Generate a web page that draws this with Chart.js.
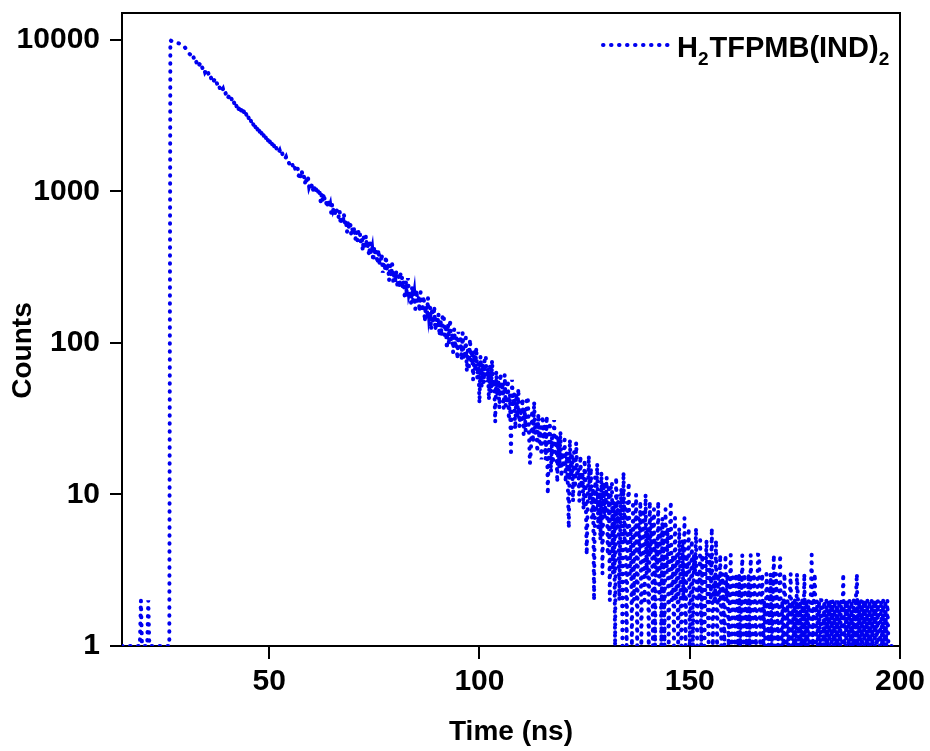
<!DOCTYPE html>
<html><head><meta charset="utf-8">
<script src="https://cdn.jsdelivr.net/npm/chart.js@4/dist/chart.umd.min.js"></script>
<style>html,body{margin:0;padding:0;background:#fff;}#wrap{width:930px;height:751px;}</style>
</head><body><div id="wrap"><canvas id="c" width="930" height="751"></canvas></div>
<script>
// ---- data ----
const seriesLabel = 'H₂TFPMB(IND)₂';
const legendParts = [['H', false], ['2', true], ['TFPMB(IND)', false], ['2', true]];
const channelStart = 15;      // ns, first channel
const channelWidth = 0.25;    // ns per channel
const xTickValues = [50, 100, 150, 200];
const yTickValues = [1, 10, 100, 1000, 10000];
const xTitle = 'Time (ns)';
const yTitle = 'Counts';
const counts = [
  // 15.00 - 26.25 ns (baseline before excitation)
  1,1,1,1,1,1,1,1,1,1,1,1,1,1,1,1,1,1,2,1,1,1,1,1,1,2,
  1,1,1,1,1,1,1,1,1,1,1,1,1,1,1,1,1,1,1,1,
  // 26.50 - 31.25
  9900,9800,9750,9700,9650,9600,9560,9500,9450,9400,9350,9280,9200,9050,8870,8700,8500,8300,8100,7960,
  // 31.50 - 36.25
  7950,7510,7680,7260,7420,7010,7170,6770,6930,6540,6690,6320,6460,6100,6250,5900,6030,5700,5830,5500,
  // 36.50 - 41.25
  5630,5320,5440,5130,5250,4960,5080,4790,4900,4630,4740,4470,4570,4320,4420,4170,4270,4030,4120,3890,
  // 41.50 - 46.25
  4000,3740,3870,3620,3740,3490,3610,3370,3490,3260,3370,3150,3250,3040,3140,2940,3040,2840,2930,2740,
  // 46.50 - 51.25
  2850,2640,2750,2550,2660,2460,2570,2380,2480,2300,2400,2220,2310,2140,2240,2070,2160,2000,2090,1930,
  // 51.50 - 56.25
  2009,1905,1913,1801,1858,1762,1816,1723,1713,1634,1681,1598,1604,1521,1573,1505,1506,1427,1476,1388,
  // 56.50 - 61.25
  1365,1438,1257,1342,1248,1360,1239,1269,1124,1235,1133,1217,1072,1121,1064,1121,993,1061,972,1061,
  // 61.50 - 66.25
  1064,937,983,848,967,850,969,852,869,779,880,781,819,720,827,749,778,686,787,674,
  // 66.50 - 71.25
  677,746,603,681,611,714,618,650,538,636,557,635,520,567,526,580,480,541,474,553,
  // 71.50 - 76.25
  556,463,501,406,497,414,509,423,440,376,455,384,416,346,431,374,399,332,413,330,
  // 76.50 - 81.25
  336,388,290,345,299,374,308,333,257,327,274,332,252,286,259,300,231,276,231,289,
  // 81.50 - 86.25
  290,229,256,195,257,202,267,210,222,182,236,189,211,167,224,187,205,161,216,161,
  // 86.50 - 91.25
  167,204,138,176,145,199,154,172,122,170,134,175,121,145,128,156,111,142,111,152,
  // 91.50 - 96.25
  154,112,132,91,134,97,143,104,113,86,124,92,108,78,118,93,106,77,116,78,
  // 96.50 - 101.25
  82,108,65,90,70,106,76,89,57,89,65,93,58,74,40,82,52,73,54,81,
  // 101.50 - 106.25
  82,55,68,42,70,47,77,51,57,30,65,45,55,37,63,46,55,37,62,38,
  // 106.50 - 111.25
  41,57,31,46,18,57,38,46,27,46,32,50,28,37,31,43,25,37,26,43,
  // 111.50 - 116.25
  44,27,16,20,36,22,41,25,29,19,34,22,28,17,33,23,28,17,33,10,
  // 116.50 - 121.25
  20,30,14,24,16,31,19,24,12,24,15,26,13,19,15,23,12,19,12,6,
  // 121.50 - 126.25
  23,13,18,9,19,11,22,13,15,9,18,11,14,8,17,11,4,9,18,9,
  // 126.50 - 131.25
  15,7,11,2,13,8,16,6,10,5,14,3,12,7,9,13,4,11,2,12,
  // 131.50 - 136.25
  12,3,9,1,13,6,10,2,7,11,1,14,5,9,1,8,12,3,6,1,
  // 136.50 - 141.25
  9,2,6,10,1,7,4,9,1,5,8,2,10,3,6,1,9,4,7,1,
  // 141.50 - 146.25
  8,1,5,3,9,2,6,1,7,4,1,8,3,6,1,5,9,2,4,1,
  // 146.50 - 151.25
  7,2,4,1,6,3,1,5,2,7,1,4,3,6,1,2,5,1,4,3,
  // 151.50 - 156.25
  6,1,3,2,5,1,4,2,1,3,5,2,1,4,2,6,1,3,2,5,
  // 156.50 - 161.25
  1,3,2,4,1,3,2,1,4,2,3,1,2,4,1,3,2,1,3,2,
  // 161.50 - 166.25
  1,3,1,2,4,1,3,2,1,2,3,1,4,2,1,3,2,1,2,4,
  // 166.50 - 171.25
  4,1,2,3,1,2,1,3,2,1,2,3,1,2,4,1,3,2,1,2,
  // 171.50 - 176.25
  4,1,2,1,3,2,1,2,1,2,3,1,2,1,2,1,3,2,1,2,
  // 176.50 - 181.25
  1,2,1,3,1,2,1,2,1,2,4,1,2,3,1,2,1,2,1,2,
  // 181.50 - 186.25
  2,1,2,1,2,1,2,1,2,1,2,1,2,1,2,1,2,1,2,1,
  // 186.50 - 191.25
  3,1,2,1,2,1,2,1,2,1,2,1,2,3,1,2,1,2,1,2,
  // 191.50 - 196.25
  1,2,1,2,1,2,1,2,1,2,1,2,1,2,1,1,2,1,2,1,
  // 196.50 - 198.00
  2,1,2,1,1,1,1
];

// ---- styling ----
const BLUE = 'rgb(0,0,240)';
const FONT = '"Liberation Sans", Arial, sans-serif';
const dotDash = [0.5, 7.5];

const framePlugin = {
  id: 'frame',
  beforeDatasetsDraw(chart) {
    const {ctx, chartArea: a} = chart;
    ctx.save();
    ctx.strokeStyle = '#000';
    ctx.lineWidth = 2;
    ctx.strokeRect(a.left, a.top, a.right - a.left, a.bottom - a.top);
    ctx.restore();
  }
};

const textPlugin = {
  id: 'texts',
  afterDraw(chart) {
    const {ctx, chartArea: a} = chart;
    const ds = chart.data.datasets[0];
    ctx.save();
    // legend sample
    const lineY = a.top + 32;
    ctx.strokeStyle = ds.borderColor;
    ctx.lineWidth = ds.borderWidth;
    ctx.lineCap = 'round';
    ctx.setLineDash(ds.borderDash);
    ctx.beginPath();
    ctx.moveTo(a.right - 297, lineY);
    ctx.lineTo(a.right - 226, lineY);
    ctx.stroke();
    ctx.setLineDash([]);
    // legend text with subscripts
    let x = a.right - 223;
    const base = a.top + 44;
    ctx.fillStyle = '#000';
    ctx.textBaseline = 'alphabetic';
    ctx.textAlign = 'left';
    for (const [txt, sub] of legendParts) {
      ctx.font = sub ? `bold 19px ${FONT}` : `bold 29px ${FONT}`;
      ctx.fillText(txt, x, sub ? base + 8 : base);
      x += ctx.measureText(txt).width + (sub ? 1 : 0);
    }
    // y axis title
    ctx.translate(23, (a.top + a.bottom) / 2 + 21);
    ctx.rotate(-Math.PI / 2);
    ctx.font = `bold 28px ${FONT}`;
    ctx.textAlign = 'center';
    ctx.textBaseline = 'middle';
    ctx.fillText(yTitle, 0, 0);
    ctx.restore();
  }
};

new Chart(document.getElementById('c'), {
  type: 'line',
  data: {
    datasets: [{
      label: seriesLabel,
      data: counts.map((v, i) => ({x: channelStart + i * channelWidth, y: v})),
      borderColor: BLUE,
      borderWidth: 4,
      borderDash: dotDash,
      borderCapStyle: 'round',
      pointRadius: 0,
      tension: 0,
      fill: false
    }]
  },
  options: {
    responsive: false,
    devicePixelRatio: 1,
    animation: false,
    layout: {padding: {left: 0, right: 30, top: 13, bottom: 0}},
    plugins: {legend: {display: false}, tooltip: {enabled: false}},
    scales: {
      x: {
        type: 'linear', min: 15, max: 200,
        afterFit(s) { s.height = 105; s.paddingLeft = 0; s.paddingRight = 0; },
        afterBuildTicks(s) { s.ticks = xTickValues.map(v => ({value: v})); },
        grid: {drawOnChartArea: false, drawTicks: true, tickLength: 13, color: '#000', lineWidth: 2},
        border: {display: true, color: '#000', width: 2},
        ticks: {color: '#000', font: {family: FONT, size: 30, weight: 'bold'}, padding: 5, maxRotation: 0, autoSkip: false, callback: v => String(v)},
        title: {display: true, text: xTitle, color: '#000', font: {family: FONT, size: 28, weight: 'bold'}, padding: {top: 0, bottom: 2}}
      },
      y: {
        type: 'logarithmic', min: 1, max: 15000,
        afterFit(s) { s.width = 122; s.paddingTop = 0; s.paddingBottom = 0; },
        afterBuildTicks(s) { s.ticks = yTickValues.map(v => ({value: v})); },
        grid: {drawOnChartArea: false, drawTicks: true, tickLength: 12, color: '#000', lineWidth: 2},
        border: {display: true, color: '#000', width: 2},
        ticks: {color: '#000', font: {family: FONT, size: 30, weight: 'bold'}, padding: 10, autoSkip: false, callback: v => String(v)},
        title: {display: false}
      }
    }
  },
  plugins: [framePlugin, textPlugin]
});
</script></body></html>
